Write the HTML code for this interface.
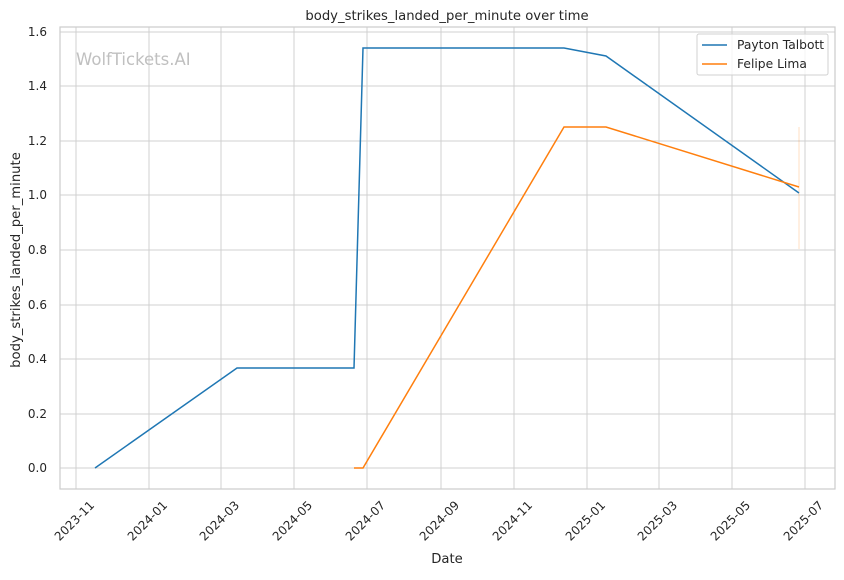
<!DOCTYPE html>
<html><head><meta charset="utf-8"><style>body{margin:0;background:#fff}</style></head><body>
<svg width="844" height="575" xmlns="http://www.w3.org/2000/svg" font-family="DejaVu Sans, Liberation Sans, sans-serif" font-size="12" fill="#262626">
<rect width="844" height="575" fill="#fff"/>
<g stroke="#d0d0d0" stroke-width="1">
<line x1="76" y1="27" x2="76" y2="489"/><line x1="149" y1="27" x2="149" y2="489"/><line x1="221" y1="27" x2="221" y2="489"/><line x1="294" y1="27" x2="294" y2="489"/><line x1="367" y1="27" x2="367" y2="489"/><line x1="441" y1="27" x2="441" y2="489"/><line x1="514" y1="27" x2="514" y2="489"/><line x1="587" y1="27" x2="587" y2="489"/><line x1="659" y1="27" x2="659" y2="489"/><line x1="732" y1="27" x2="732" y2="489"/><line x1="805" y1="27" x2="805" y2="489"/>
<line x1="60" y1="468" x2="835" y2="468"/><line x1="60" y1="414" x2="835" y2="414"/><line x1="60" y1="359" x2="835" y2="359"/><line x1="60" y1="305" x2="835" y2="305"/><line x1="60" y1="250" x2="835" y2="250"/><line x1="60" y1="195" x2="835" y2="195"/><line x1="60" y1="141" x2="835" y2="141"/><line x1="60" y1="86" x2="835" y2="86"/><line x1="60" y1="32" x2="835" y2="32"/>
</g>
<rect x="60" y="27" width="775" height="462" fill="none" stroke="#cccccc" stroke-width="1.2"/>
<text x="76" y="65" font-size="16.5" fill="#c0c0c0">WolfTickets.AI</text>
<line x1="799" y1="127" x2="799" y2="249" stroke="#ff7f0e" stroke-opacity="0.25" stroke-width="1"/>
<polyline fill="none" stroke="#1f77b4" stroke-width="1.5" points="95,468 237,368 354,368 363,48 564,48 606,56 799,193"/>
<polyline fill="none" stroke="#ff7f0e" stroke-width="1.5" points="354,468 363,468 564,127 606,127 799,187"/>
<g text-anchor="end">
<text x="47" y="472">0.0</text><text x="47" y="418">0.2</text><text x="47" y="363">0.4</text><text x="47" y="309">0.6</text><text x="47" y="254">0.8</text><text x="47" y="199">1.0</text><text x="47" y="145">1.2</text><text x="47" y="90">1.4</text><text x="47" y="36">1.6</text>
</g>
<g text-anchor="end">
<text transform="translate(95,506) rotate(-45)">2023-11</text>
<text transform="translate(168,506) rotate(-45)">2024-01</text>
<text transform="translate(240,506) rotate(-45)">2024-03</text>
<text transform="translate(313,506) rotate(-45)">2024-05</text>
<text transform="translate(386,506) rotate(-45)">2024-07</text>
<text transform="translate(460,506) rotate(-45)">2024-09</text>
<text transform="translate(533,506) rotate(-45)">2024-11</text>
<text transform="translate(606,506) rotate(-45)">2025-01</text>
<text transform="translate(678,506) rotate(-45)">2025-03</text>
<text transform="translate(751,506) rotate(-45)">2025-05</text>
<text transform="translate(824,506) rotate(-45)">2025-07</text>
</g>
<text x="447" y="563" text-anchor="middle" font-size="13.2">Date</text>
<text transform="translate(20,260) rotate(-90)" text-anchor="middle" font-size="13.2">body_strikes_landed_per_minute</text>
<text x="447" y="20" text-anchor="middle" font-size="13.2">body_strikes_landed_per_minute over time</text>
<rect x="697" y="34" width="131" height="41" rx="2" fill="#fff" fill-opacity="0.8" stroke="#d0d0d0"/>
<line x1="702" y1="45" x2="727" y2="45" stroke="#1f77b4" stroke-width="1.5"/>
<text x="737" y="49" font-size="12.3">Payton Talbott</text>
<line x1="702" y1="64" x2="727" y2="64" stroke="#ff7f0e" stroke-width="1.5"/>
<text x="737" y="68" font-size="12.3">Felipe Lima</text>
</svg>
</body></html>
